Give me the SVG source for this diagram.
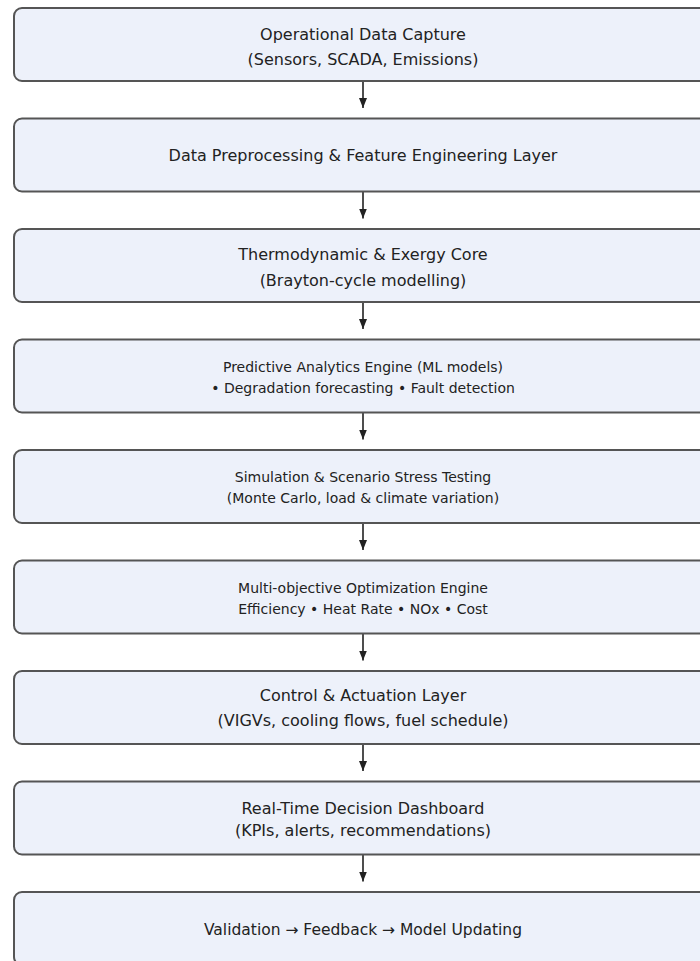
<svg xmlns="http://www.w3.org/2000/svg" width="700" height="961" viewBox="0 0 700 961">
<style>
.box{fill:#edf1fa;stroke:#555;stroke-width:2}
.t{font-family:"DejaVu Sans",sans-serif;font-size:16px;fill:#222;text-anchor:middle}
.s{font-size:14px}
.c{stroke:#222;stroke-width:1.6;fill:none}
</style>
<defs>
<marker id="ah" viewBox="0 0 10 8" refX="10" refY="4" markerWidth="10" markerHeight="8" markerUnits="userSpaceOnUse" orient="auto"><path d="M0,0L10,4L0,8Z" fill="#222"/></marker>
</defs>
<rect width="700" height="961" fill="#fff"/>
<g id="connectors">
<line class="c" x1="363" y1="81" x2="363" y2="108" marker-end="url(#ah)"/>
<line class="c" x1="363" y1="191.5" x2="363" y2="218.5" marker-end="url(#ah)"/>
<line class="c" x1="363" y1="302" x2="363" y2="329" marker-end="url(#ah)"/>
<line class="c" x1="363" y1="412.5" x2="363" y2="439.5" marker-end="url(#ah)"/>
<line class="c" x1="363" y1="523" x2="363" y2="550" marker-end="url(#ah)"/>
<line class="c" x1="363" y1="633.5" x2="363" y2="660.5" marker-end="url(#ah)"/>
<line class="c" x1="363" y1="744" x2="363" y2="771" marker-end="url(#ah)"/>
<line class="c" x1="363" y1="854.5" x2="363" y2="881.5" marker-end="url(#ah)"/>
</g>
<g id="n1"><rect class="box" x="14" y="8" width="698" height="73" rx="8"/><text class="t" x="363" y="39.5">Operational Data Capture</text><text class="t" x="363" y="65">(Sensors, SCADA, Emissions)</text></g>
<g id="n2"><rect class="box" x="14" y="118.5" width="698" height="73" rx="8"/><text class="t" x="363" y="161">Data Preprocessing &amp; Feature Engineering Layer</text></g>
<g id="n3"><rect class="box" x="14" y="229" width="698" height="73" rx="8"/><text class="t" x="363" y="260">Thermodynamic &amp; Exergy Core</text><text class="t" x="363" y="285.5">(Brayton-cycle modelling)</text></g>
<g id="n4"><rect class="box" x="14" y="339.5" width="698" height="73" rx="8"/><text class="t s" x="363" y="371.5">Predictive Analytics Engine (ML models)</text><text class="t s" x="363" y="392.5">• Degradation forecasting • Fault detection</text></g>
<g id="n5"><rect class="box" x="14" y="450" width="698" height="73" rx="8"/><text class="t s" x="363" y="482">Simulation &amp; Scenario Stress Testing</text><text class="t s" x="363" y="503">(Monte Carlo, load &amp; climate variation)</text></g>
<g id="n6"><rect class="box" x="14" y="560.5" width="698" height="73" rx="8"/><text class="t s" x="363" y="592.5">Multi-objective Optimization Engine</text><text class="t s" x="363" y="613.5">Efficiency • Heat Rate • NOx • Cost</text></g>
<g id="n7"><rect class="box" x="14" y="671" width="698" height="73" rx="8"/><text class="t" x="363" y="701">Control &amp; Actuation Layer</text><text class="t" x="363" y="726">(VIGVs, cooling flows, fuel schedule)</text></g>
<g id="n8"><rect class="box" x="14" y="781.5" width="698" height="73" rx="8"/><text class="t" x="363" y="813.5">Real-Time Decision Dashboard</text><text class="t" x="363" y="836">(KPIs, alerts, recommendations)</text></g>
<g id="n9"><rect class="box" x="14" y="892" width="698" height="73" rx="8"/><text class="t" x="363" y="935" style="font-size:15.5px">Validation → Feedback → Model Updating</text></g>
</svg>
